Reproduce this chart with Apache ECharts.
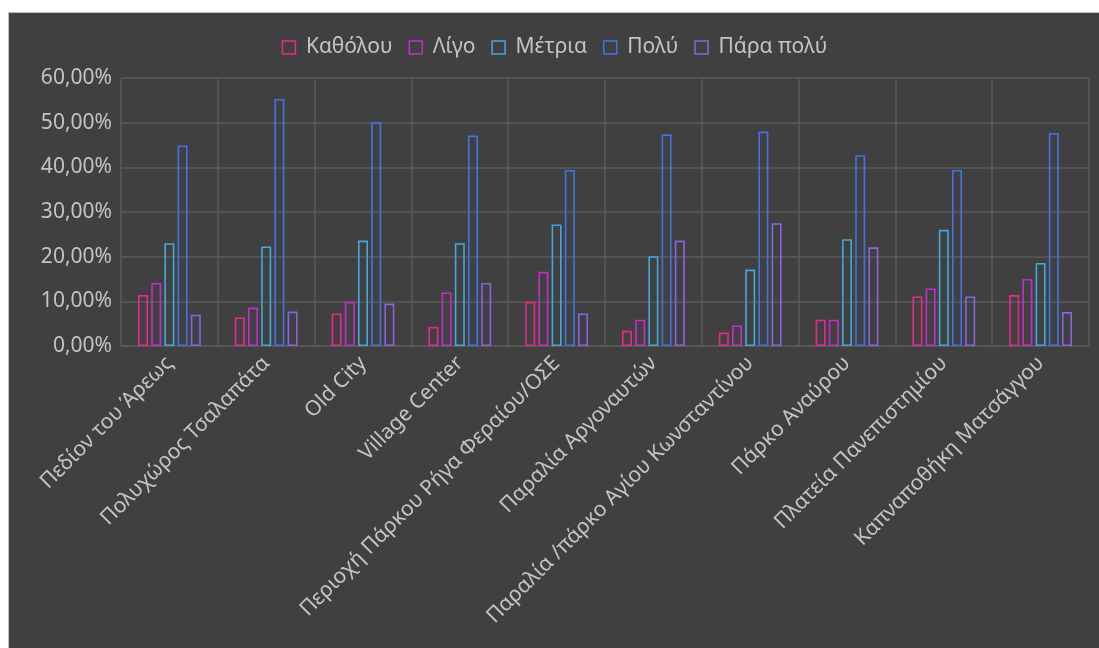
<!DOCTYPE html>
<html>
<head>
<meta charset="utf-8">
<script src="https://cdn.jsdelivr.net/npm/echarts@6/dist/echarts.min.js"></script>
<style>
  html, body { margin: 0; padding: 0; background: #ffffff; }
  #box {
    position: absolute; left: 8px; top: 12px; width: 1091px; height: 636px;
    border-left: 1px solid #c0c0c0; border-top: 1px solid #c0c0c0;
  }
  #chart { width: 1091px; height: 636px; }
</style>
</head>
<body>
<div id="box"><div id="chart"></div></div>
<script>
var places = ['Πεδίον του Άρεως', 'Πολυχώρος Τσαλαπάτα', 'Old City', 'Village Center',
    'Περιοχή Πάρκου Ρήγα Φεραίου/ΟΣΕ', 'Παραλία Αργοναυτών', 'Παραλία /πάρκο Αγίου Κωνσταντίνου',
    'Πάρκο Αναύρου', 'Πλατεία Πανεπιστημίου', 'Καπναποθήκη Ματσάγγου'];

var seriesNames = ['Καθόλου', 'Λίγο', 'Μέτρια', 'Πολύ', 'Πάρα πολύ'];
var seriesColors = ['#e8288c', '#c42ec8', '#41a9dd', '#4174e0', '#8a63e0'];

var katholou = [11.4, 6.4, 7.3, 4.3, 9.9, 3.4, 3.0, 5.9, 11.1, 11.4];
var ligo = [14.1, 8.6, 9.9, 12.0, 16.6, 5.9, 4.6, 5.9, 12.9, 15.0];
var metria = [23.0, 22.3, 23.6, 23.0, 27.2, 20.1, 17.1, 23.9, 26.0, 18.6];
var poly = [44.9, 55.3, 50.1, 47.1, 39.4, 47.4, 48.0, 42.7, 39.4, 47.7];
var paraPoly = [7.0, 7.7, 9.5, 14.1, 7.3, 23.6, 27.5, 22.1, 11.1, 7.6];

var allValues = [katholou, ligo, metria, poly, paraPoly];

var chart = echarts.init(document.getElementById('chart'));

var labelFont = '"Noto Sans", "Open Sans", sans-serif';
var textColor = '#c4c4c4';
var gridColor = '#5a5a5a';

var series = seriesNames.map(function (name, i) {
    return {
        name: name,
        type: 'bar',
        data: allValues[i],
        barWidth: 10,
        barGap: '32%',
        itemStyle: {
            color: 'transparent',
            borderColor: seriesColors[i],
            borderWidth: 1.6
        },
        emphasis: { disabled: true }
    };
});

var option = {
    backgroundColor: '#404040',
    animation: false,
    legend: {
        top: 19,
        left: 'center',
        itemWidth: 13,
        itemHeight: 13,
        itemGap: 16,
        icon: 'rect',
        formatter: function (name) { return ' ' + name; },
        textStyle: { color: textColor, fontSize: 21, fontFamily: labelFont },
        data: seriesNames.map(function (name, i) {
            return {
                name: name,
                itemStyle: { color: 'transparent', borderColor: seriesColors[i], borderWidth: 1.5 }
            };
        })
    },
    grid: { left: 112, right: 11, top: 65, bottom: 303, containLabel: false },
    xAxis: {
        type: 'category',
        data: places,
        axisLine: { lineStyle: { color: gridColor, width: 1.5 } },
        axisTick: { show: false },
        splitLine: { show: true, lineStyle: { color: gridColor, width: 1.5 } },
        axisLabel: {
            interval: 0,
            rotate: 45,
            margin: 14,
            color: textColor,
            fontSize: 21,
            fontFamily: labelFont
        }
    },
    yAxis: {
        type: 'value',
        min: 0,
        max: 60,
        interval: 10,
        axisLine: { show: false },
        axisTick: { show: false },
        splitLine: { lineStyle: { color: gridColor, width: 1.5 } },
        axisLabel: {
            margin: 9,
            color: textColor,
            fontSize: 21,
            fontFamily: labelFont,
            formatter: function (v) { return v.toFixed(2).replace('.', ',') + '%'; }
        }
    },
    series: series
};

chart.setOption(option);
</script>
</body>
</html>
